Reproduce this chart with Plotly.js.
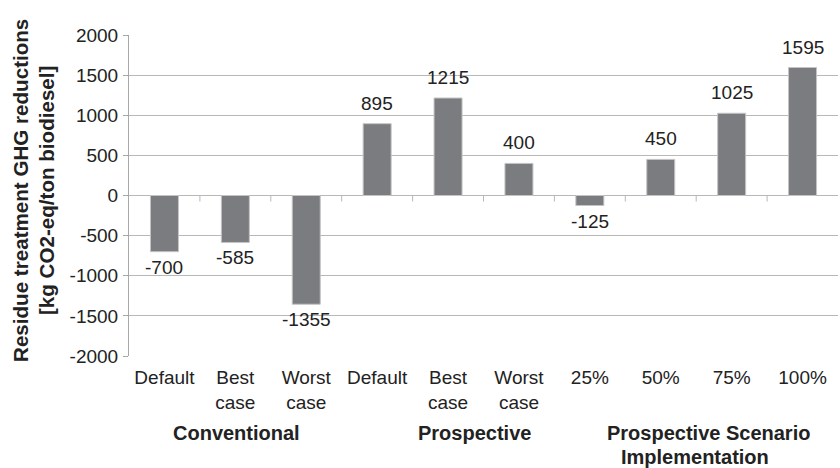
<!DOCTYPE html>
<html>
<head>
<meta charset="utf-8">
<script src="https://cdn.plot.ly/plotly-3.0.1.min.js"></script>
<style>
  html, body { margin: 0; padding: 0; background: #fff; }
  #chart { width: 840px; height: 468px; }
</style>
</head>
<body>
<div id="chart"></div>
<script>
// Residue treatment GHG reductions per scenario (kg CO2-eq / ton biodiesel)
const categoryLabels = ['Default', 'Best<br>case', 'Worst<br>case',
                        'Default', 'Best<br>case', 'Worst<br>case',
                        '25%', '50%', '75%', '100%'];
const reductions = [-700, -585, -1355, 895, 1215, 400, -125, 450, 1025, 1595];
const yTickValues = [-2000, -1500, -1000, -500, 0, 500, 1000, 1500, 2000];
const yTickLabels = yTickValues.map(String);
const groupNames = ['Conventional', 'Prospective', 'Prospective Scenario', 'Implementation'];

const positions = categoryLabels.map((_, i) => i);
const FONT = '"Liberation Sans", Arial, sans-serif';
const TEXT = '#222222';
const GRID = '#b8b8b8';

const bars = {
  type: 'bar',
  x: positions,
  y: reductions,
  marker: { color: '#7b7c80', line: { color: '#c4c4c4', width: 1 } },
  hoverinfo: 'skip',
  showlegend: false
};

// value labels above positive bars, below negative ones
const valueLabels = reductions.map((v, i) => ({
  xref: 'x', yref: 'y', x: i, y: v,
  text: String(v),
  showarrow: false,
  yanchor: v >= 0 ? 'bottom' : 'top',
  yshift: v >= 0 ? 8 : -3,
  font: { family: FONT, size: 19, color: TEXT }
}));

// small tick marks on the zero line between categories
const boundaryTicks = positions.slice(0, -1).map(i => ({
  type: 'line', xref: 'x', yref: 'y',
  ysizemode: 'pixel', yanchor: 0,
  x0: i + 0.5, x1: i + 0.5, y0: 0, y1: -6,
  line: { color: GRID, width: 1 }
}));

const groupFont = { family: FONT, size: 20, color: TEXT };
const groupLabels = [
  { text: '<b>' + groupNames[0] + '</b>', x: 0.151, y: -0.24 },
  { text: '<b>' + groupNames[1] + '</b>', x: 0.488, y: -0.24 },
  { text: '<b>' + groupNames[2] + '</b>', x: 0.818, y: -0.24 },
  { text: '<b>' + groupNames[3] + '</b>', x: 0.799, y: -0.315 }
].map(g => ({
  xref: 'paper', yref: 'paper', x: g.x, y: g.y,
  text: g.text, showarrow: false, xanchor: 'center', yanchor: 'middle',
  font: groupFont
}));

const yTitle = {
  xref: 'paper', yref: 'paper',
  x: -0.135, y: 0.515,
  xanchor: 'center', yanchor: 'middle',
  textangle: -90, showarrow: false,
  text: '<b>Residue treatment GHG reductions<br>[kg CO2-eq/ton biodiesel]</b>',
  font: { family: FONT, size: 20.6, color: TEXT }
};

const layout = {
  width: 840, height: 468,
  margin: { l: 129, r: 2, t: 35, b: 112 },
  paper_bgcolor: '#ffffff', plot_bgcolor: '#ffffff',
  font: { family: FONT, size: 19, color: TEXT },
  bargap: 0.605,
  xaxis: {
    range: [-0.5, 9.5],
    tickvals: positions, ticktext: categoryLabels,
    showgrid: false, zeroline: false, showline: false,
    ticks: '', ticklabelstandoff: 8,
    tickfont: { family: FONT, size: 19, color: TEXT },
    fixedrange: true
  },
  yaxis: {
    range: [-2000, 2000],
    tickvals: yTickValues, ticktext: yTickLabels,
    showgrid: true, gridcolor: GRID, gridwidth: 1,
    zeroline: true, zerolinecolor: GRID, zerolinewidth: 1,
    showline: true, linecolor: '#a8a8a8', linewidth: 1,
    ticks: 'outside', ticklen: 5, tickcolor: '#a8a8a8',
    ticklabelstandoff: 1,
    tickfont: { family: FONT, size: 19, color: TEXT },
    fixedrange: true
  },
  shapes: boundaryTicks,
  annotations: valueLabels.concat(groupLabels, [yTitle])
};

Plotly.newPlot('chart', [bars], layout, { displayModeBar: false, staticPlot: true });
</script>
</body>
</html>
